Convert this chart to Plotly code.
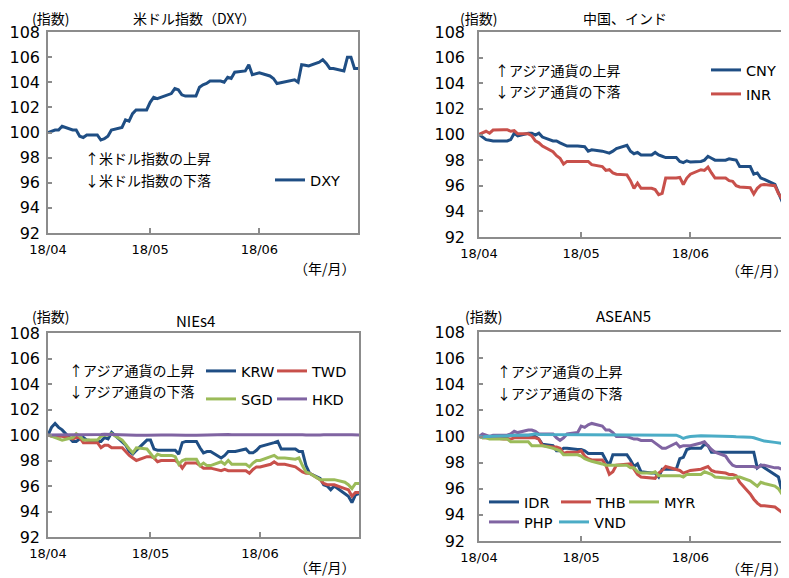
import pandas as pd
import plotly.graph_objects as go

# The page body keeps its default 8px margin, so the figure is sized to
# fill the 789x578 window that remains after that offset.
WIN_W, WIN_H = 789, 578
OFF = 8
W, H = WIN_W - OFF, WIN_H - OFF

# trading days (x categories)
dates = pd.bdate_range("2018-04-02", "2018-06-29")
tick_vals = ["2018-04-02", "2018-05-01", "2018-06-01"]
tick_text = ["18/04", "18/05", "18/06"]

# ---- panel 1: US dollar index ----
DXY = [100.0, 100.1, 100.2, 100.2, 100.5,
       100.2, 100.2, 99.7, 99.6, 99.8,
       99.8, 99.4, 99.5, 99.7, 100.2,
       100.4, 101.0, 100.9, 101.5, 101.8,
       101.8, 102.4, 102.8, 102.7, 102.8,
       103.1, 103.5, 103.4, 103.0, 102.9,
       102.9, 103.6, 103.8, 103.9, 104.1,
       104.1, 104.0, 104.4, 104.3, 104.8,
       104.9, 105.4, 104.6, 104.7, 104.75,
       104.5, 104.3, 103.9, 103.95, 104.0,
       104.2, 104.0, 105.4, 105.35, 105.3,
       105.6, 105.8, 105.5, 105.1, 105.1,
       104.9, 106.0, 106.0, 105.1, 105.1]

# ---- panel 2: China, India ----
CNY = [100.0, 99.8, 99.6, 99.55, 99.5,
       99.5, 99.5, 99.6, 100.1, 99.9,
       100.1, 100.1, 99.95, 100.1, 99.8,
       99.5, 99.5, 99.35, 99.2, 99.1,
       99.1, 99.1, 99.05, 98.7, 98.8,
       98.7, 98.6, 98.55, 98.7, 98.9,
       99.15, 98.7, 98.5, 98.6, 98.4,
       98.4, 98.6, 98.4, 98.3, 98.2,
       98.2, 97.9, 97.8, 97.95, 97.85,
       97.9, 98.0, 98.3, 98.15, 98.0,
       98.0, 98.1, 98.05, 98.0, 97.5,
       97.5, 96.9, 97.0, 96.6, 96.5,
       96.1, 95.4, 94.8, 94.7, 94.8]
INR = [100.0, 100.1, 100.25, 100.1, 100.35,
       100.38, 100.38, 100.25, 100.3, 100.05,
       100.05, 99.9, 99.5, 99.35, 99.1,
       98.65, 98.35, 98.15, 97.7, 97.9,
       97.9, 97.9, 97.9, 97.9, 97.65,
       97.5, 97.2, 97.25, 97.0, 96.9,
       96.85, 96.4, 95.8, 96.2, 95.8,
       95.8, 95.7, 95.3, 95.4, 96.6,
       96.6, 96.65, 96.1, 96.6, 96.9,
       97.25, 97.2, 97.45, 97.0, 96.6,
       96.6, 96.4, 96.35, 96.0, 95.9,
       95.85, 95.35, 95.8, 96.05, 96.1,
       96.0, 95.4, 95.0, 94.7, 95.2]

# ---- panel 3: NIEs4 ----
KRW = [100.0, 100.6, 100.9, 100.6, 100.4,
       99.5, 99.5, 99.7, 99.8, 99.6,
       99.5, 99.5, 99.8, 99.7, 100.2,
       99.5, 99.2, 98.7, 98.5, 98.8,
       99.6, 99.6, 98.9, 98.8, 98.8,
       98.8, 98.8, 98.5, 99.4, 99.5,
       99.5, 99.0, 98.6, 98.7, 98.7,
       98.2, 98.4, 98.7, 98.7, 98.7,
       98.9, 98.6, 98.6, 98.8, 99.1,
       99.3, 99.4, 99.5, 98.9, 98.9,
       98.9, 98.7, 98.7, 97.6, 97.0,
       96.6, 96.1, 96.0, 95.7, 96.0,
       95.4, 95.2, 94.7, 95.3, 95.4]
TWD = [100.0, 99.9, 99.9, 99.9, 99.9,
       99.7, 99.8, 99.8, 99.4, 99.4,
       99.4, 99.0, 99.2, 99.2, 99.0,
       99.0, 98.7, 98.4, 98.2, 98.0,
       98.3, 98.3, 98.2, 97.9, 98.0,
       98.0, 98.0, 97.8, 97.4, 97.8,
       97.8, 97.6, 97.4, 97.4, 97.4,
       97.2, 97.3, 97.2, 97.2, 97.2,
       97.2, 97.0, 97.3, 97.5, 97.5,
       97.7, 97.9, 97.7, 97.7, 97.7,
       97.5, 97.3, 97.1, 97.0, 97.0,
       96.5, 96.2, 96.1, 96.1, 96.1,
       95.8, 95.7, 95.2, 95.5, 95.5]
SGD = [100.0, 99.9, 99.8, 99.7, 99.6,
       99.8, 100.1, 99.9, 99.6, 99.6,
       99.6, 99.9, 100.0, 100.0, 100.1,
       99.6, 99.2, 98.9, 98.6, 99.0,
       98.9, 98.5, 98.2, 98.5, 98.4,
       98.4, 98.3, 97.7, 98.0, 98.1,
       98.1, 97.6, 97.8, 97.6, 97.6,
       97.9, 97.7, 98.0, 97.7, 97.7,
       97.7, 97.5, 97.8, 98.0, 98.0,
       98.3, 98.4, 98.2, 98.2, 98.2,
       98.1, 98.2, 97.6, 97.1, 97.0,
       96.5, 96.5, 96.5, 96.5, 96.5,
       96.3, 96.1, 95.8, 96.2, 96.2]
HKD = [100.0, 100.0, 99.98, 99.98, 99.99,
       100.0, 100.0, 100.0, 100.0, 100.0,
       100.02, 100.03, 100.05, 100.04, 100.02,
       100.02, 100.01, 100.0, 100.0, 99.99,
       99.99, 99.98, 99.99, 100.0, 100.0,
       100.0, 100.01, 100.02, 100.0, 99.99,
       99.98, 99.99, 100.0, 100.02, 100.04,
       100.04, 100.03, 100.03, 100.02, 100.02,
       100.01, 100.03, 100.05, 100.06, 100.05,
       100.04, 100.03, 100.03, 100.04, 100.03,
       100.02, 100.03, 100.02, 100.0, 99.99,
       100.0, 100.01, 100.02, 100.03, 100.02,
       100.02, 100.02, 100.01, 100.0, 100.0]

# ---- panel 4: ASEAN5 ----
IDR = [100.0, 100.0, 100.0, 100.0, 100.0,
       100.0, 100.0, 100.1, 100.1, 100.1,
       100.1, 100.1, 100.0, 99.8, 99.4,
       99.3, 98.9, 98.9, 99.1, 99.1,
       99.0, 99.0, 98.9, 98.7, 98.7,
       98.7, 98.2, 97.8, 98.6, 98.6,
       98.6, 98.2, 97.7, 97.9, 97.3,
       97.2, 97.2, 96.9, 97.5, 97.5,
       97.5, 98.3, 98.4, 99.0, 99.1,
       99.1, 99.4, 99.3, 98.8, 98.8,
       98.8, 98.8, 98.8, 98.8, 98.8,
       98.8, 98.8, 97.6, 97.8, 97.6,
       97.1, 96.9, 95.8, 96.0, 96.1]
THB = [100.0, 99.9, 99.9, 99.9, 99.9,
       99.8, 99.8, 99.8, 99.9, 99.9,
       99.9, 99.9, 99.9, 99.8, 99.3,
       99.2, 99.2, 99.1, 98.7, 98.8,
       98.8, 98.9, 98.5, 98.3, 98.2,
       98.2, 97.8, 97.1, 97.3, 97.8,
       97.9, 97.9, 97.5, 97.1, 96.9,
       96.8, 96.8, 97.2, 97.4, 97.7,
       97.5, 97.4, 97.2, 97.3, 97.4,
       97.5, 97.6, 97.7, 97.4, 97.3,
       97.2, 97.1, 97.1, 97.0, 96.5,
       95.6, 95.2, 94.9, 94.7, 94.7,
       94.6, 94.4, 94.2, 94.1, 94.1]
MYR = [100.0, 99.9, 99.9, 99.8, 99.8,
       99.8, 99.8, 99.6, 99.6, 99.6,
       99.6, 99.3, 99.3, 99.3, 99.3,
       99.1, 99.0, 98.9, 98.6, 98.6,
       98.6, 98.5, 98.3, 98.2, 98.1,
       97.9, 97.8, 97.8, 97.8, 97.8,
       97.8, 97.6, 97.6, 97.3, 97.2,
       97.2, 97.3, 97.0, 97.0, 97.0,
       97.0, 97.0, 96.9, 97.1, 97.1,
       97.1, 97.3, 97.2, 97.1, 96.9,
       96.8, 96.8, 96.8, 96.9, 96.9,
       96.6, 96.4, 96.2, 96.5, 96.4,
       96.2, 96.0, 95.6, 95.7, 95.7]
PHP = [100.0, 100.2, 100.1, 100.0, 100.1,
       100.1, 100.1, 100.2, 100.4, 100.3,
       100.5, 100.5, 100.4, 100.2, 100.2,
       100.2, 99.9, 99.7, 99.9, 100.2,
       100.3, 100.8, 100.7, 100.9, 101.0,
       100.8, 100.5, 100.5, 100.3, 100.0,
       100.0, 99.9, 99.8, 99.8, 99.7,
       99.7, 99.5, 99.3, 99.1, 99.1,
       99.5, 99.2, 99.3, 99.3, 99.3,
       99.5, 99.6, 99.3, 99.0, 98.8,
       98.5, 98.1, 97.8, 97.7, 97.7,
       97.7, 97.7, 97.6, 97.8, 97.8,
       97.6, 97.6, 97.5, 97.6, 97.8]
VND = [100.0, 99.97, 100.0, 100.0, 100.02,
       100.05, 100.05, 100.08, 100.1, 100.1,
       100.1, 100.15, 100.2, 100.15, 100.15,
       100.15, 100.15, 100.15, 100.15, 100.15,
       100.15, 100.15, 100.15, 100.1, 100.1,
       100.1, 100.1, 100.1, 100.15, 100.1,
       100.1, 100.1, 100.1, 100.1, 100.15,
       100.1, 100.1, 100.1, 100.15, 100.15,
       100.1, 100.0, 99.85, 99.95, 100.0,
       100.05, 100.05, 100.0, 100.05, 100.05,
       100.05, 100.0, 100.0, 99.98, 99.98,
       99.95, 99.9, 99.8, 99.7, 99.65,
       99.55, 99.5, 99.45, 99.4, 99.4]

BLUE = "#1F4E84"
RED = "#C8504B"
GREEN = "#9BBB59"
PURPLE = "#8064A2"
CYAN = "#4BACC6"
AXC = "#8C8C8C"

JP = "Noto Sans CJK JP"
NUM = "DejaVu Sans, Noto Sans CJK JP"


def px(x):
    """window pixel x -> paper fraction"""
    return (x - OFF) / W


def py(y):
    """window pixel y -> paper fraction"""
    return 1 - (y - OFF) / H


fig = go.Figure()

# (name, values, color, axis suffix, legend id, legend x px, legend y px)
series = [
    ("DXY", DXY, BLUE, "", "legend", 270, 180),
    ("CNY", CNY, BLUE, "2", "legend2", 706, 70),
    ("INR", INR, RED, "2", "legend3", 706, 94),
    ("KRW", KRW, BLUE, "3", "legend4", 201, 371),
    ("TWD", TWD, RED, "3", "legend5", 272, 371),
    ("SGD", SGD, GREEN, "3", "legend6", 201, 399),
    ("HKD", HKD, PURPLE, "3", "legend7", 272, 399),
    ("IDR", IDR, BLUE, "4", "legend8", 484, 502),
    ("THB", THB, RED, "4", "legend9", 556, 502),
    ("MYR", MYR, GREEN, "4", "legend10", 624, 502),
    ("PHP", PHP, PURPLE, "4", "legend11", 484, 522),
    ("VND", VND, CYAN, "4", "legend12", 554, 522),
]

legend_layouts = {}
for name, vals, color, ax, leg, lx, ly in series:
    fig.add_trace(go.Scatter(
        x=dates, y=vals, name=name, mode="lines",
        line=dict(color=color, width=3),
        xaxis="x" + ax, yaxis="y" + ax,
        legend=leg, showlegend=True,
    ))
    legend_layouts[leg] = dict(
        x=px(lx), y=py(ly), xanchor="left", yanchor="middle",
        bgcolor="rgba(0,0,0,0)", borderwidth=0,
        font=dict(family=NUM, size=14.5, color="#000"),
        itemwidth=30,
    )

# panel geometry in window pixels: (left, right, top, bottom)
panels = {
    "": (48, 358, 32, 233),
    "2": (479, 789, 32, 237),
    "3": (48, 359, 333, 537),
    "4": (479, 789, 332, 541),
}

layout = dict(
    width=W, height=H,
    margin=dict(l=0, r=0, t=0, b=0, pad=0, autoexpand=False),
    paper_bgcolor="white", plot_bgcolor="white",
    showlegend=True,
)
layout.update(legend_layouts)

for ax, (l, r, t, b) in panels.items():
    right_panel = ax in ("2", "4")
    layout["xaxis" + ax] = dict(
        domain=[px(l), min(1.0, px(r))], anchor="y" + ax,
        type="date", range=["2018-04-02", "2018-06-29"],
        tickvals=tick_vals, ticktext=tick_text,
        ticks="inside", ticklen=5, tickwidth=1.5, tickcolor=AXC,
        showline=True, linecolor=AXC, linewidth=1.5, mirror=True,
        showgrid=False, zeroline=False, automargin=False,
        tickfont=dict(family=NUM, size=13, color="#000"),
        ticklabelstandoff=4,
    )
    layout["yaxis" + ax] = dict(
        domain=[py(b), py(t)], anchor="x" + ax,
        range=[92, 108], tickmode="linear", tick0=92, dtick=2,
        ticks="inside", ticklen=4, tickwidth=1.5, tickcolor=AXC,
        showline=True, linecolor=AXC, linewidth=1.5,
        mirror=(not right_panel), automargin=False,
        showgrid=False, zeroline=False,
        tickfont=dict(family=NUM, size=16, color="#000"),
        ticklabelstandoff=9 if right_panel else 3,
    )

fig.update_layout(**layout)

texts = [
    # titles
    ("米ドル指数（DXY）", 194, 18, 14),
    ("中国、インド", 625, 18, 14),
    ("NIEs4", 195, 320, 15),
    ("ASEAN5", 623, 315, 15),
    # unit labels
    ("(指数)", 50, 18, 14),
    ("(指数)", 478, 18, 14),
    ("(指数)", 50, 316, 14),
    ("(指数)", 483, 316, 14),
    ("（年/月）", 325, 268, 14),
    ("（年/月）", 757, 270, 14),
    ("（年/月）", 325, 567, 14),
    ("（年/月）", 757, 568, 14),
]
for txt, x, y, s in texts:
    fig.add_annotation(text=txt, x=px(x), y=py(y), xref="paper", yref="paper",
                       xanchor="center", yanchor="middle", showarrow=False,
                       borderpad=0,
                       font=dict(family=JP, size=s, color="#000"))

notes = [
    ("↑米ドル指数の上昇", 83, 158),
    ("↓米ドル指数の下落", 83, 180),
    ("↑アジア通貨の上昇", 493, 70),
    ("↓アジア通貨の下落", 493, 91),
    ("↑アジア通貨の上昇", 67, 370),
    ("↓アジア通貨の下落", 67, 391),
    ("↑アジア通貨の上昇", 495, 371),
    ("↓アジア通貨の下落", 495, 393),
]
for txt, x, y in notes:
    fig.add_annotation(text=txt, x=px(x), y=py(y), xref="paper", yref="paper",
                       xanchor="left", yanchor="middle", showarrow=False,
                       font=dict(family=JP, size=14, color="#000"))

fig.write_html("out.html")
